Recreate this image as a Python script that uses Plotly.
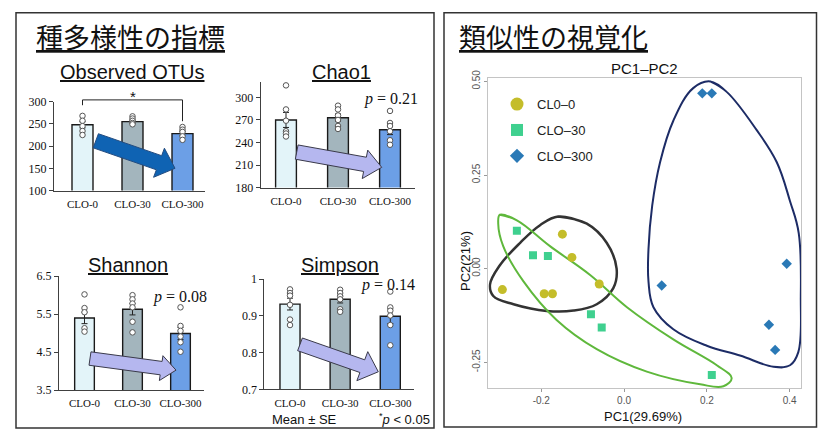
import numpy as np
import plotly.graph_objects as go

W, H = 818, 437

# ---- diversity indices (bar + dots) ----
groups = ["CLO-0", "CLO-30", "CLO-300"]
bar_colors = ["#e3f4f9", "#a3b5bd", "#6c9fe6"]

otus_mean = [248, 255, 228]
otus_se = [7, 3.5, 5]
otus_pts = [[268, 257, 245, 234, 225], [267, 262, 257, 252, 249], [243, 237, 232, 222, 214]]

chao1_mean = [270, 273, 257]
chao1_se = [10, 5, 6.5]
chao1_pts = [[316, 284, 269, 255, 252, 248], [289, 284, 276, 270, 262, 258], [282, 266, 262, 255, 243, 237]]

shannon_mean = [5.40, 5.63, 4.99]
shannon_se = [0.15, 0.15, 0.16]
shannon_pts = [[6.02, 5.66, 5.55, 5.13, 5.04], [6.0, 5.89, 5.78, 5.68, 5.30, 5.02], [5.68, 5.19, 5.06, 4.91, 4.76, 4.51]]

simpson_mean = [0.932, 0.945, 0.899]
simpson_se = [0.016, 0.01, 0.02]
simpson_pts = [[0.972, 0.962, 0.955, 0.93, 0.89, 0.875], [0.971, 0.962, 0.953, 0.945, 0.918, 0.911],
               [0.966, 0.923, 0.914, 0.901, 0.875, 0.82]]

p_labels = ["0.21", "0.08", "0.14"]

# ---- PCA ----
pca_names = ["CL0\u20130", "CLO\u201330", "CLO\u2013300"]
pca_colors = ["#c4bd2a", "#3fd08f", "#2a79b6"]
pca_symbols = ["circle", "square", "diamond"]
clo0_pc1 = [-0.149, -0.126, -0.294, -0.193, -0.173, -0.060]
clo0_pc2 = [0.092, 0.030, -0.056, -0.067, -0.067, -0.041]
clo30_pc1 = [-0.259, -0.220, -0.184, -0.080, -0.054, 0.212]
clo30_pc2 = [0.101, 0.036, 0.034, -0.122, -0.157, -0.284]
clo300_pc1 = [0.189, 0.212, 0.091, 0.393, 0.350, 0.365]
clo300_pc2 = [0.468, 0.468, -0.045, 0.013, -0.150, -0.217]

# hand-drawn group outlines (PC1, PC2)
outline_clo0 = [(-0.159, 0.139), (-0.090, 0.120), (-0.042, 0.069), (-0.018, 0.000), (-0.026, -0.052),
                (-0.066, -0.095), (-0.122, -0.112), (-0.187, -0.113), (-0.267, -0.095), (-0.316, -0.073),
                (-0.324, -0.043), (-0.300, 0.009), (-0.251, 0.069), (-0.203, 0.116)]
outline_clo30 = [(-0.300, 0.144), (-0.259, 0.129), (-0.179, 0.060), (-0.082, -0.017), (0.007, -0.103),
                 (0.119, -0.189), (0.224, -0.258), (0.260, -0.292), (0.240, -0.314), (0.184, -0.309),
                 (0.055, -0.275), (-0.066, -0.215), (-0.163, -0.137), (-0.243, -0.034), (-0.292, 0.060),
                 (-0.304, 0.120)]
outline_clo300 = [(0.208, 0.500), (0.248, 0.472), (0.321, 0.369), (0.369, 0.284), (0.401, 0.180),
                  (0.422, 0.095), (0.427, -0.077), (0.421, -0.223), (0.401, -0.258), (0.361, -0.262),
                  (0.280, -0.232), (0.200, -0.206), (0.119, -0.162), (0.071, -0.103), (0.059, -0.034),
                  (0.059, 0.052), (0.068, 0.168), (0.087, 0.284), (0.119, 0.395), (0.167, 0.482)]
outline_colors = ["#333333", "#5fb83c", "#1d2c66"]


def px(x, y):
    return x / W, 1 - y / H


# subplot frames in pixels: (x_left, x_right), (y_top, y_bottom); value range; category centre spacing
panels = [
    dict(name="Observed OTUs", x=(54, 205), y=(97, 189), c0=82.5, dc=50, yr=(100, 300), dt=50, t0=100,
         mean=otus_mean, se=otus_se, pts=otus_pts, bw=0.42),
    dict(name="Chao1", x=(260.7, 415), y=(77, 186), c0=286, dc=52, yr=(180, 320), dt=30, t0=180,
         mean=chao1_mean, se=chao1_se, pts=chao1_pts, bw=0.40),
    dict(name="Shannon", x=(59, 204), y=(277.7, 395.7), c0=84.5, dc=48, yr=(3.5, 6.5), dt=1, t0=3.5,
         mean=shannon_mean, se=shannon_se, pts=shannon_pts, bw=0.41),
    dict(name="Simpson", x=(264.3, 414), y=(280.7, 395), c0=290, dc=50.15, yr=(0.7, 1.0), dt=0.1, t0=0.7,
         mean=simpson_mean, se=simpson_se, pts=simpson_pts, bw=0.40),
]

fig = go.Figure()
layout = dict(width=W, height=H, margin=dict(l=0, r=0, t=0, b=0), plot_bgcolor="white",
              paper_bgcolor="white", showlegend=True)
shapes, annotations = [], []

serif = "Liberation Serif"
sans = "Liberation Sans"

for i, p in enumerate(panels, start=1):
    xa, ya = f"x{i}", f"y{i}"
    r0 = (p["x"][0] - p["c0"]) / p["dc"]
    r1 = (p["x"][1] - p["c0"]) / p["dc"]
    layout[f"xaxis{i}"] = dict(domain=[p["x"][0] / W, p["x"][1] / W], range=[r0, r1], type="category",
                               anchor=ya, showline=True, linecolor="#404040", linewidth=1, ticks="",
                               showgrid=False, tickfont=dict(family=serif, size=11, color="#111111"),
                               ticklabelstandoff=3, fixedrange=True)
    layout[f"yaxis{i}"] = dict(domain=[1 - p["y"][1] / H, 1 - p["y"][0] / H], range=list(p["yr"]),
                               anchor=xa, showline=True, linecolor="#404040", linewidth=1, ticks="outside",
                               ticklen=4, tickcolor="#404040", tick0=p["t0"], dtick=p["dt"], showgrid=False,
                               zeroline=False, tickfont=dict(family=serif, size=12, color="#111111"),
                               fixedrange=True)
    fig.add_trace(go.Bar(x=groups, y=p["mean"], width=p["bw"], xaxis=xa, yaxis=ya, showlegend=False,
                         marker=dict(color=bar_colors, line=dict(color="#1a1a1a", width=1.4)),
                         error_y=dict(type="data", array=p["se"], color="#222", thickness=1, width=3)))
    for g, vals in zip(groups, p["pts"]):
        fig.add_trace(go.Scatter(x=[g] * len(vals), y=vals, mode="markers", xaxis=xa, yaxis=ya,
                                 showlegend=False, cliponaxis=False,
                                 marker=dict(size=5.5, color="white", line=dict(color="#555", width=1))))

# panel headings
for p, (cx, cy) in zip(panels, [(132, 66), (341, 66), (128, 266), (340, 266)]):
    annotations.append(dict(text=f"<u>{p['name']}</u>", x=cx / W, y=1 - cy / H, xref="paper", yref="paper",
                            showarrow=False, font=dict(family=sans, size=20, color="#111"),
                            xanchor="center", yanchor="middle"))

# p-values
for txt, (cx, cy) in zip(p_labels, [(391, 94), (180, 299), (388, 287)]):
    annotations.append(dict(text=f"<i>p</i> = {txt}", x=cx / W, y=1 - cy / H, xref="paper", yref="paper",
                            showarrow=False, font=dict(family=serif, size=16, color="#111"),
                            xanchor="center", yanchor="middle"))


def arrow(tail, tip, sw, hw, hl, fill, edge, ew):
    t, q = np.array(tail, float), np.array(tip, float)
    u = (q - t) / np.linalg.norm(q - t)
    n = np.array([-u[1], u[0]])
    b = q - u * hl
    pts = [t + n * sw / 2, b + n * sw / 2, b + n * hw / 2, q, b - n * hw / 2, b - n * sw / 2, t - n * sw / 2]
    path = "M " + " L ".join("{:.5f},{:.5f}".format(*px(*pt)) for pt in pts) + " Z"
    return dict(type="path", path=path, xref="paper", yref="paper", fillcolor=fill,
                line=dict(color=edge, width=ew), layer="above")


shapes.append(arrow((95.8, 137.5), (175, 166), 15.5, 32, 17, "#0f63b3", "#244c80", 1))
shapes.append(arrow((296.7, 149.2), (381.7, 165), 15, 30, 17, "#b5b7ef", "#3a3a4a", 1))
shapes.append(arrow((90, 363), (176, 375), 14, 26, 15, "#b5b7ef", "#3a3a4a", 1))
shapes.append(arrow((300, 348.3), (378.3, 376.7), 14, 32, 17, "#b5b7ef", "#3a3a4a", 1))


# significance bracket between CLO-0 and CLO-300 (Observed OTUs)
def otus_xy(cat, val):
    p = panels[0]
    xpx = p["c0"] + cat * p["dc"]
    ypx = p["y"][1] - (val - p["yr"][0]) / (p["yr"][1] - p["yr"][0]) * (p["y"][1] - p["y"][0])
    return px(xpx, ypx)


br = [otus_xy(0, 292), otus_xy(0, 304), otus_xy(2, 304), otus_xy(2, 256)]
shapes.append(dict(type="path", xref="paper", yref="paper", layer="above",
                   path="M " + " L ".join(f"{a:.5f},{b:.5f}" for a, b in br),
                   line=dict(color="#222", width=1)))
sx, sy = otus_xy(1, 312)
annotations.append(dict(text="*", x=sx, y=sy, xref="paper", yref="paper", showarrow=False,
                        font=dict(family=sans, size=15, color="#111"), xanchor="center", yanchor="middle"))

annotations.append(dict(text="Mean ± SE", x=304 / W, y=1 - 426 / H, xref="paper", yref="paper",
                        showarrow=False, font=dict(family=sans, size=13, color="#111"),
                        xanchor="center", yanchor="middle"))
annotations.append(dict(text="<sup>*</sup><i>p</i> < 0.05", x=432 / W, y=1 - 425.5 / H, xref="paper",
                        yref="paper", showarrow=False, font=dict(family=sans, size=13, color="#111"),
                        xanchor="right", yanchor="middle"))

# section titles
annotations.append(dict(text="<u>種多様性の指標</u>", x=34 / W, y=1 - 29 / H, xref="paper", yref="paper",
                        showarrow=False, font=dict(family="Noto Sans CJK JP", size=27, color="#111"),
                        xanchor="left", yanchor="middle"))
annotations.append(dict(text="<u>類似性の視覚化</u>", x=457 / W, y=1 - 29 / H, xref="paper", yref="paper",
                        showarrow=False, font=dict(family="Noto Sans CJK JP", size=27, color="#111"),
                        xanchor="left", yanchor="middle"))

# panel frames
shapes.append(dict(type="rect", xref="paper", yref="paper", x0=16 / W, x1=434 / W, y0=1 - 435 / H,
                   y1=1 - 5 / H, line=dict(color="#333", width=1.5), layer="below"))
shapes.append(dict(type="rect", xref="paper", yref="paper", x0=444 / W, x1=816.5 / W, y0=1 - 434 / H,
                   y1=1 - 5 / H, line=dict(color="#333", width=1.5), layer="below"))

# ---- PCA scatter ----
layout["xaxis5"] = dict(domain=[488.3 / W, 801 / W], range=[-0.328, 0.4275], anchor="y5", showline=True,
                        mirror=True, linecolor="#c4c4c4", linewidth=1, ticks="outside", ticklen=3,
                        tickcolor="#999", showgrid=False, zeroline=False, tickvals=[-0.2, 0.0, 0.2, 0.4],
                        ticktext=["-0.2", "0.0", "0.2", "0.4"],
                        tickfont=dict(family=sans, size=10, color="#555"), fixedrange=True)
layout["yaxis5"] = dict(domain=[1 - 394 / H, 1 - 72.7 / H], range=[-0.32, 0.5085], anchor="x5", showline=True,
                        mirror=True, linecolor="#c4c4c4", linewidth=1, ticks="outside", ticklen=3,
                        tickcolor="#999", showgrid=False, zeroline=False, tickvals=[-0.25, 0.0, 0.25, 0.5],
                        ticktext=["-0.25", "0.00", "0.25", "0.50"], tickangle=-90,
                        tickfont=dict(family=sans, size=10, color="#555"), fixedrange=True)

for outline, col, w in zip([outline_clo0, outline_clo30, outline_clo300], outline_colors, [2.5, 2, 2]):
    pts = outline + outline[:2]
    fig.add_trace(go.Scatter(x=[a for a, b in pts], y=[b for a, b in pts], mode="lines", xaxis="x5",
                             yaxis="y5", showlegend=False, hoverinfo="skip",
                             line=dict(color=col, width=w, shape="spline", smoothing=1.1)))

pc_sets = [(clo0_pc1, clo0_pc2), (clo30_pc1, clo30_pc2), (clo300_pc1, clo300_pc2)]
marker_sizes = [9, 8, 8]
legend_sizes = [13, 12, 11]
for k, ((xs, ys), name, col, sym) in enumerate(zip(pc_sets, pca_names, pca_colors, pca_symbols)):
    fig.add_trace(go.Scatter(x=xs, y=ys, mode="markers", xaxis="x5", yaxis="y5", showlegend=False,
                             marker=dict(size=marker_sizes[k], color=col, symbol=sym, line=dict(width=0))))
    fig.add_trace(go.Scatter(x=[None], y=[None], mode="markers", xaxis="x5", yaxis="y5", name=name,
                             legendgroup=name, showlegend=True,
                             marker=dict(size=legend_sizes[k], color=col, symbol=sym, line=dict(width=0))))

layout["legend"] = dict(x=497 / W, y=1 - 84 / H, xanchor="left", yanchor="top", bgcolor="rgba(0,0,0,0)",
                        font=dict(family=sans, size=13, color="#222"), tracegroupgap=6,
                        itemsizing="trace")

annotations.append(dict(text="PC1\u2013PC2", x=644 / W, y=1 - 63 / H, xref="paper", yref="paper",
                        showarrow=False, font=dict(family=sans, size=15, color="#111"),
                        xanchor="center", yanchor="middle"))
annotations.append(dict(text="PC1(29.69%)", x=643 / W, y=1 - 423 / H, xref="paper", yref="paper",
                        showarrow=False, font=dict(family=sans, size=13, color="#111"),
                        xanchor="center", yanchor="middle"))
annotations.append(dict(text="PC2(21%)", x=465 / W, y=1 - 262 / H, xref="paper", yref="paper",
                        showarrow=False, textangle=-90, font=dict(family=sans, size=13, color="#111"),
                        xanchor="center", yanchor="middle"))

layout["shapes"] = shapes
layout["annotations"] = annotations
fig.update_layout(**layout)
fig.write_html("out.html")
